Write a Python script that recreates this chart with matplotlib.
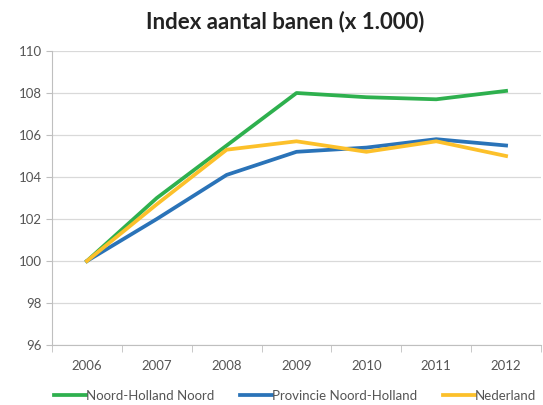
import numpy as np
import matplotlib.pyplot as plt

plt.rcParams['font.family'] = ['Lato', 'DejaVu Sans']

years = ['2006', '2007', '2008', '2009', '2010', '2011', '2012']
nhn = [100, 103.0, 105.5, 108.0, 107.8, 107.7, 108.1]
prov = [100, 102.0, 104.1, 105.2, 105.4, 105.8, 105.5]
nl = [100, 102.7, 105.3, 105.7, 105.2, 105.7, 105.0]
series_names = ['Noord-Holland Noord', 'Provincie Noord-Holland', 'Nederland']

fig = plt.figure(figsize=(5.43, 4.05), dpi=100)
# plot area: y-axis at x=52px, category width ~71px, right part cut off by the image edge
ax = fig.add_axes([52/543, 1 - 345/405, 489/543, 294/405])

x = np.arange(len(years))
ax.plot(x, nhn, color='#2eb04e', linewidth=2.7, label=series_names[0])
ax.plot(x, prov, color='#2a73b8', linewidth=2.7, label=series_names[1])
ax.plot(x, nl, color='#fcc02a', linewidth=2.7, label=series_names[2])

ax.set_xlim(-0.5, -0.5 + 489/71.1)
ax.set_ylim(96, 110)
ax.set_yticks(np.arange(96, 111, 2))
ax.set_xticks(x)
ax.set_xticklabels(years)
ax.set_xticks(np.arange(-0.5, len(years)), minor=True)
ax.tick_params(axis='x', which='major', length=0, pad=11, labelsize=9.5, labelcolor='#555555')
ax.tick_params(axis='x', which='minor', length=5, color='#bfbfbf')
ax.tick_params(axis='y', length=4, color='#bfbfbf', labelsize=9.5, labelcolor='#555555')

ax.grid(axis='y', color='#d9d9d9', linewidth=0.9)
ax.set_axisbelow(True)
for s in ['top', 'right']:
    ax.spines[s].set_visible(False)
ax.spines['left'].set_color('#bfbfbf')
ax.spines['bottom'].set_color('#bfbfbf')

fig.text(285/543, 1 - 22/405, 'Index aantal banen (x 1.000)', ha='center', va='center',
         fontsize=16, fontweight='bold', color='#222222')

fig.legend(loc='center left', bbox_to_anchor=(54/543, 1 - 396/405), ncol=3, frameon=False,
           fontsize=9.5, handlelength=2.4, handletextpad=0.0, columnspacing=2.0,
           labelcolor='#555555', borderaxespad=0, borderpad=0)

fig.savefig('out.png', dpi=100)
